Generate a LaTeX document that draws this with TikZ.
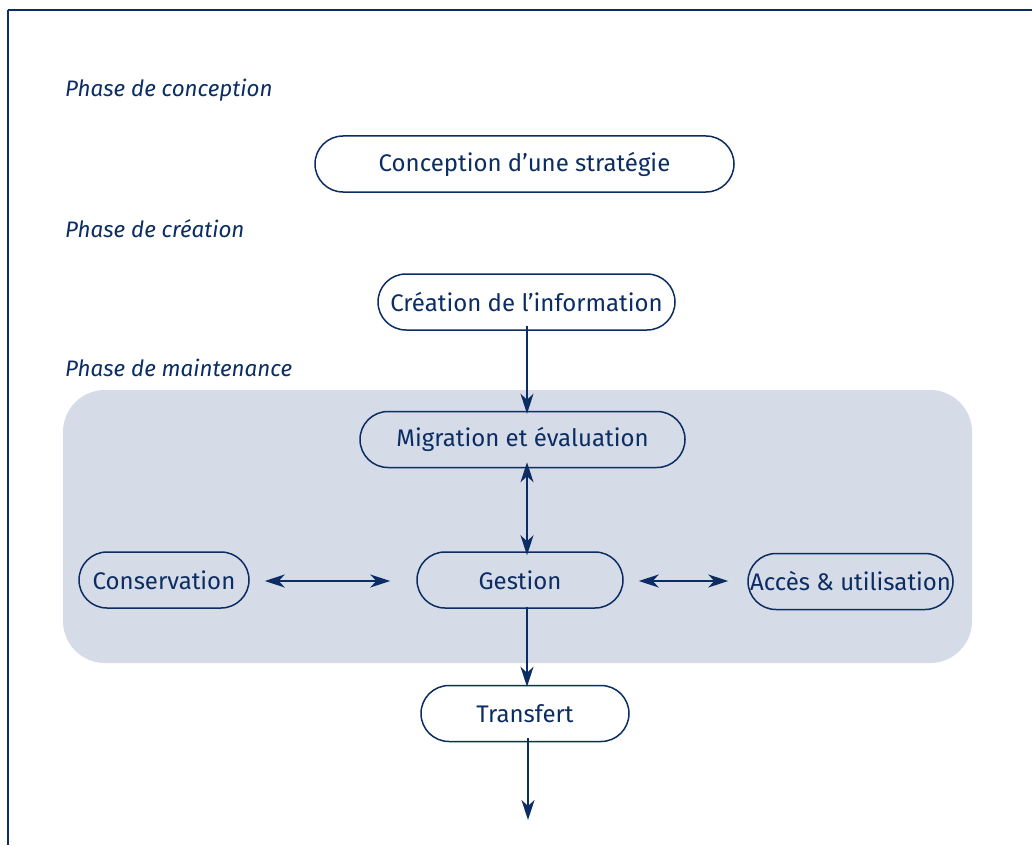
\documentclass[tikz,border=0pt]{standalone}
\usepackage{fontspec}
\setmainfont{Fira Sans}
\usetikzlibrary{shapes.misc,arrows.meta}
\definecolor{navy}{HTML}{0B2D63}
\definecolor{panel}{HTML}{D5DBE7}
\begin{document}
\begin{tikzpicture}[x=1pt,y=-1pt,
  pill/.style={rounded rectangle, draw=navy, line width=1.5pt, inner sep=0pt,
    minimum height=56pt, text=navy, font=\fontsize{24}{28}\selectfont},
  phase/.style={anchor=west, text=navy, inner sep=0pt, font=\fontsize{22.4}{26}\selectfont\itshape},
  tip/.style={Stealth[length=20pt,width=13pt,inset=6pt]},
  arr/.style={draw=navy, line width=1.5pt, -{Stealth[length=20pt,width=13pt,inset=6pt]}},
  darr/.style={draw=navy, line width=1.5pt, {Stealth[length=20pt,width=13pt,inset=6pt]}-{Stealth[length=20pt,width=13pt,inset=6pt]}}]
\useasboundingbox (0,0) rectangle (1032,845);
\fill[white] (0,0) rectangle (1032,845);
% frame
\draw[navy, line width=2.6pt] (8,10) -- (1032,10);
\draw[navy, line width=1.6pt] (8,10) -- (8,845);
% panel
\fill[panel, rounded corners=42pt] (63,390) rectangle (972,663);
% phase labels
\node[phase] (p1) at (65,90) {Phase de conception};
\node[phase] (p2) at (65,229) {Phase de création};
\node[phase] (p3) at (65,368) {Phase de maintenance};
% nodes
\node[pill, minimum width=419pt] (conc) at (524.5,164) {Conception d’une stratégie};
\node[pill, minimum width=297pt] (crea) at (526.5,302) {Création de l’information};
\node[pill, minimum width=325pt] (migr) at (522.5,439.5) {Migration et évaluation};
\node[pill, minimum width=170pt] (cons) at (164,580) {Conservation};
\node[pill, minimum width=206pt] (gest) at (520,580) {Gestion};
\node[pill, minimum width=205pt] (acces) at (850.5,581.5) {Accès \& utilisation};
\node[pill, minimum width=208pt] (trans) at (525,713.5) {Transfert};
\coordinate (cx) at (527,0);
\coordinate (cy) at (0,581);
\coordinate (endpt) at (528,820);
% connectors
\draw[arr] ([yshift=5pt]crea.south -| cx) -- ([yshift=-3pt]migr.north -| cx);
\draw[darr] ([yshift=6pt]migr.south -| cx) -- ([yshift=-4pt]gest.north -| cx);
\draw[darr] ([xshift=15pt]cons.east |- cy) -- ([xshift=-26pt]gest.west |- cy);
\draw[darr] ([xshift=15pt]gest.east |- cy) -- ([xshift=-19pt]acces.west |- cy);
\draw[arr] ([yshift=2pt]gest.south -| cx) -- ([yshift=-2pt]trans.north -| cx);
\draw[arr] ([yshift=4pt]trans.south -| endpt) -- (endpt);
\end{tikzpicture}
\end{document}
